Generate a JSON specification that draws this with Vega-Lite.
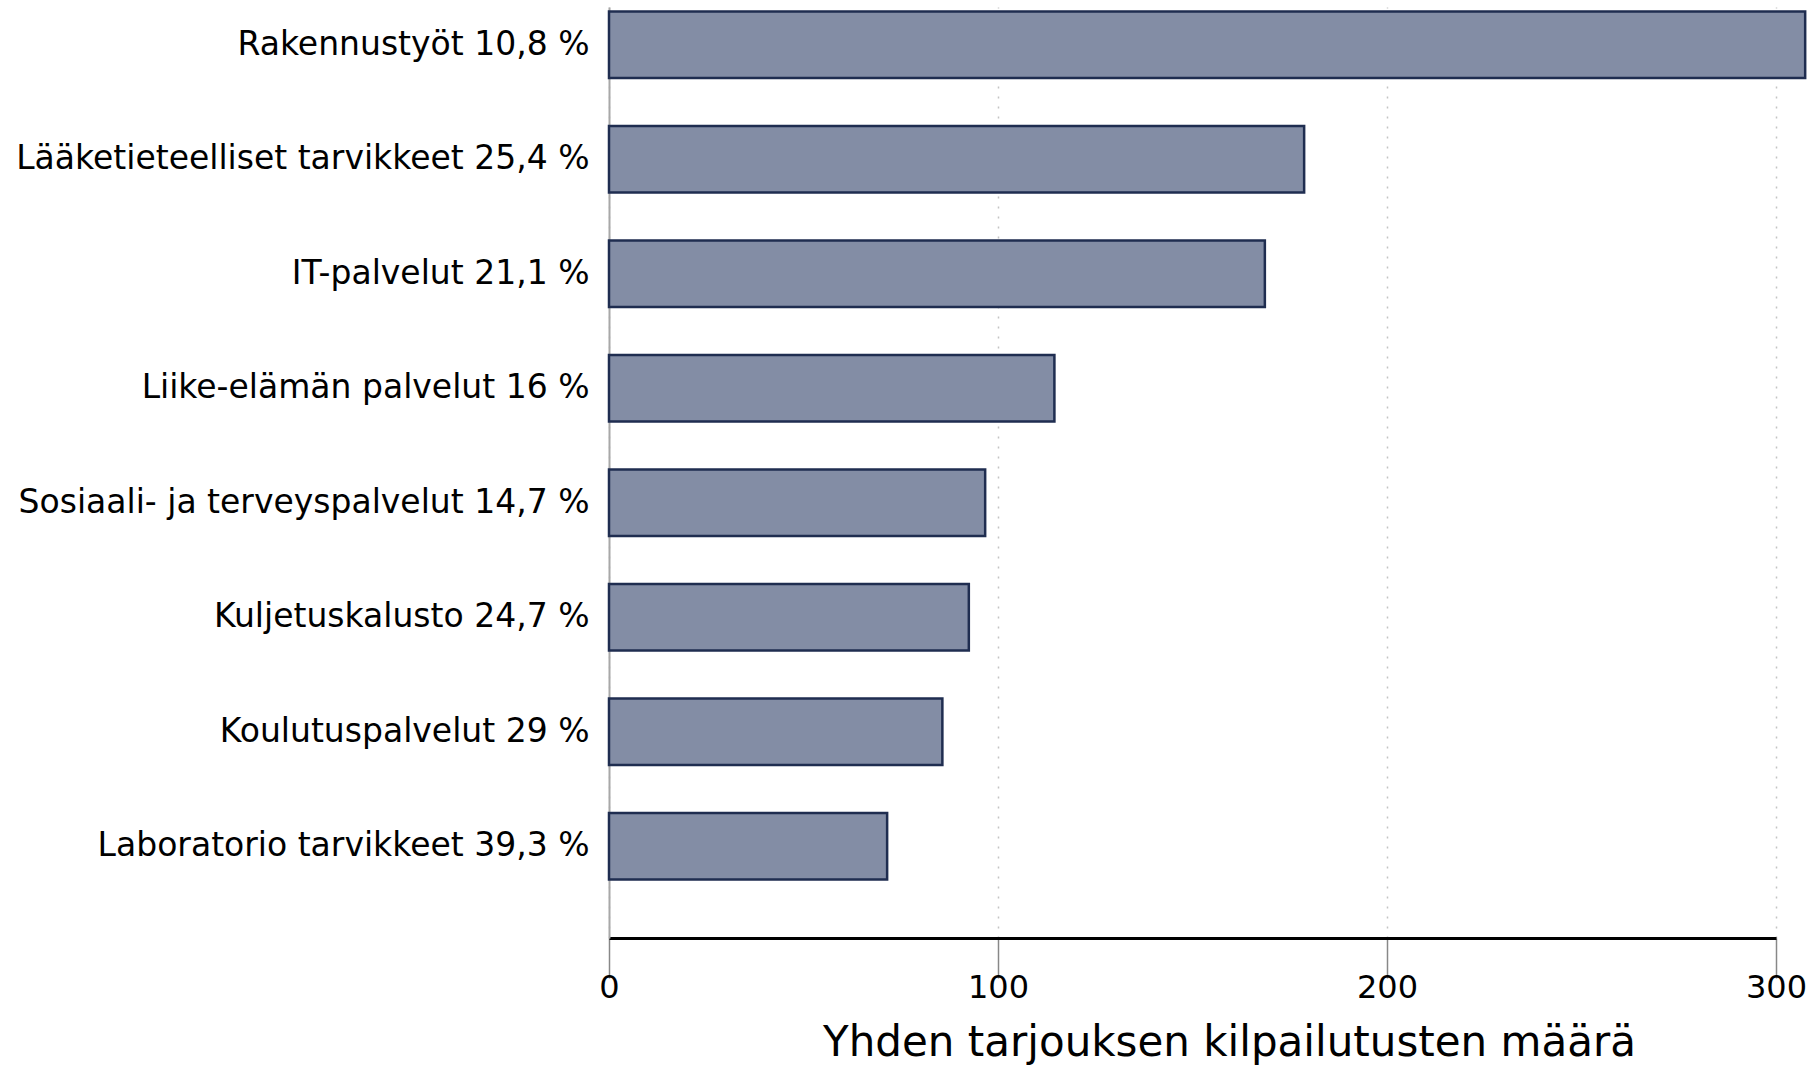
{
  "$schema": "https://vega.github.io/schema/vega-lite/v6.json",
  "autosize": "none",
  "width": 1167,
  "height": 931,
  "padding": {"left": 609, "top": 7, "right": 35, "bottom": 130},
  "background": "white",
  "config": {
    "view": {"stroke": null},
    "font": "DejaVu Sans"
  },
  "data": {
    "values": [
      {"kategoria": "Rakennustyöt 10,8 %", "maara": 307.5},
      {"kategoria": "Lääketieteelliset tarvikkeet 25,4 %", "maara": 178.7},
      {"kategoria": "IT-palvelut 21,1 %", "maara": 168.6},
      {"kategoria": "Liike-elämän palvelut 16 %", "maara": 114.5},
      {"kategoria": "Sosiaali- ja terveyspalvelut 14,7 %", "maara": 96.7},
      {"kategoria": "Kuljetuskalusto 24,7 %", "maara": 92.5},
      {"kategoria": "Koulutuspalvelut 29 %", "maara": 85.7},
      {"kategoria": "Laboratorio tarvikkeet 39,3 %", "maara": 71.5}
    ]
  },
  "mark": {"type": "bar", "fill": "#838da5", "stroke": "#1f2d50", "strokeWidth": 2.5, "clip": false},
  "encoding": {
    "y": {
      "field": "kategoria",
      "type": "nominal",
      "sort": null,
      "title": null,
      "scale": {"paddingInner": 0.42, "paddingOuter": 0.2755, "align": 0.071},
      "axis": {
        "domain": true,
        "domainColor": "#a8a8a8",
        "domainWidth": 2,
        "ticks": false,
        "labelPadding": 20,
        "labelFontSize": 33,
        "labelColor": "#000000",
        "labelFont": "DejaVu Sans",
        "labelLimit": 1000,
        "grid": false
      }
    },
    "x": {
      "field": "maara",
      "type": "quantitative",
      "scale": {"domain": [0, 300], "nice": false, "clamp": false},
      "axis": {
        "values": [0, 100, 200, 300],
        "domainColor": "#000000",
        "domainWidth": 3,
        "tickColor": "#888888",
        "tickSize": 40,
        "tickWidth": 1.5,
        "labelPadding": -6,
        "labelFontSize": 32,
        "labelColor": "#000000",
        "labelFlush": false,
        "grid": true,
        "gridColor": "#c4c4c4",
        "gridDash": [2, 8],
        "gridWidth": 1.5,
        "title": "Yhden tarjouksen kilpailutusten määrä",
        "titleFontSize": 42,
        "titleFontWeight": "normal",
        "titleColor": "#000000",
        "titleX": 620,
        "titleY": 104,
        "titleBaseline": "middle"
      }
    }
  }
}
